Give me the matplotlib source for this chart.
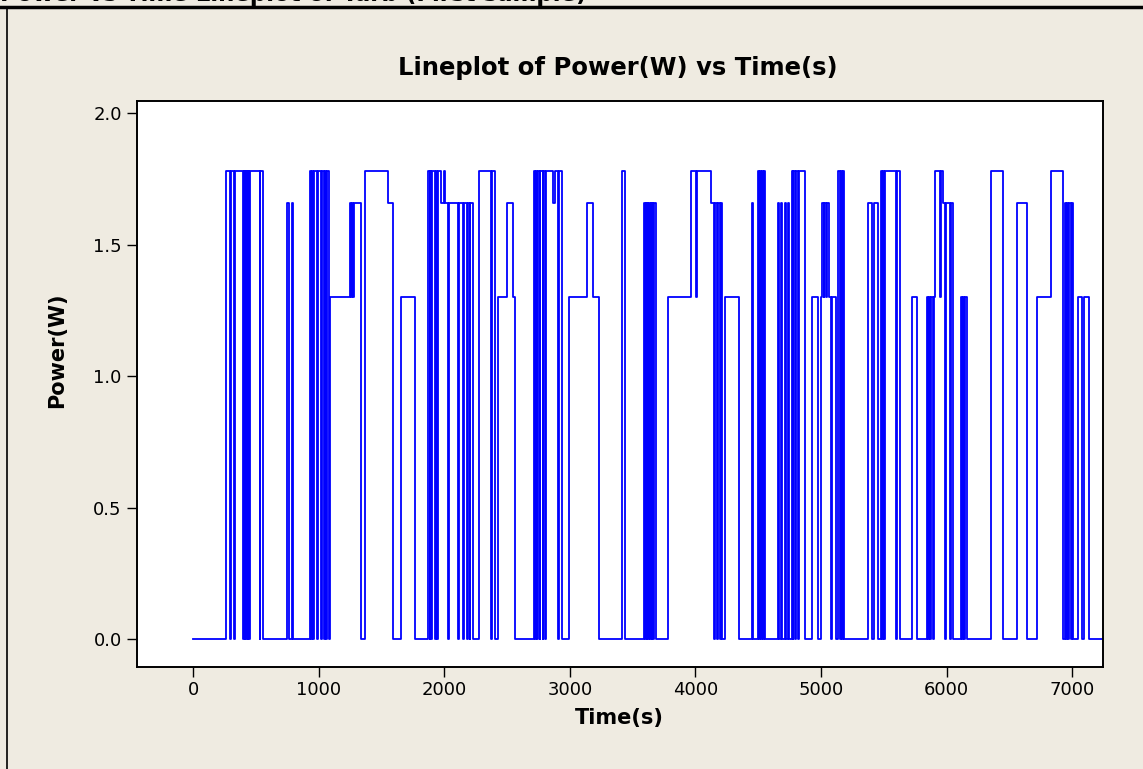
# Lineplot of Power(W) vs Time(s), Minitab style
import matplotlib.pyplot as plt
import numpy as np

# power levels (W) seen in the trace
levels = [0.0, 1.30, 1.66, 1.78]

# time (s) at which the power changes, and the level index it changes to
change_t = [0,
            263, 295, 300, 327, 333, 398, 402, 410, 415, 422, 427, 436, 441, 448, 452, 530, 537, 560,
            752, 764, 785, 796,
            932, 940, 946, 955, 962, 985, 992, 1022, 1030, 1043, 1050, 1060, 1066, 1085,
            1091, 1250, 1258, 1266, 1274, 1280, 1335,
            1369, 1555, 1595,
            1656, 1768,
            1873, 1884, 1888, 1897, 1901, 1930, 1935, 1944, 1949, 1975, 1995, 2005,
            2030, 2036, 2110, 2116, 2150, 2156, 2182, 2188, 2203, 2209, 2231,
            2277, 2370, 2378, 2404,
            2431, 2498, 2546, 2564,
            2718, 2724, 2730, 2740, 2745, 2760, 2766, 2784, 2790, 2803, 2808, 2869, 2885, 2905, 2912, 2936,
            2994, 3134, 3187, 3235,
            3418, 3440,
            3593, 3600, 3606, 3612, 3618, 3624, 3630, 3638, 3644, 3652, 3658, 3666, 3672, 3686,
            3784, 3962, 4005, 4015, 4124, 4150, 4156, 4170, 4176, 4195, 4200, 4209,
            4236, 4347,
            4450, 4460,
            4501, 4510, 4515, 4525, 4530, 4540, 4545, 4554,
            4656, 4663, 4685, 4692, 4711, 4718, 4738, 4746,
            4766, 4775, 4780, 4795, 4800, 4820, 4826, 4873,
            4931, 4979, 4998, 5011, 5020, 5026, 5040, 5046, 5064, 5080, 5086, 5122,
            5138, 5150, 5156, 5168, 5174, 5186,
            5372, 5403, 5424, 5454,
            5474, 5484, 5490, 5500, 5506, 5600, 5606, 5629,
            5721, 5761,
            5841, 5850, 5856, 5870, 5876, 5890, 5896, 5908, 5945, 5952, 5974, 5987, 5993, 6027, 6033, 6054,
            6115, 6125, 6130, 6140, 6146, 6159,
            6357, 6445,
            6557, 6636,
            6716, 6828, 6929,
            6943, 6952, 6958, 6968, 6975, 6990, 6996, 7009,
            7048, 7075, 7096, 7134,
            7260]
change_lvl = [0,
              3, 0, 3, 0, 3, 0, 3, 0, 3, 0, 3, 0, 3, 0, 3, 0, 3, 0,
              2, 0, 2, 0,
              3, 0, 3, 0, 3, 0, 3, 0, 3, 0, 3, 0, 3, 0,
              1, 2, 1, 2, 1, 2, 0,
              3, 2, 0,
              1, 0,
              3, 0, 3, 0, 3, 0, 3, 0, 3, 2, 3, 2,
              0, 2, 0, 2, 0, 2, 0, 2, 0, 2, 0,
              3, 0, 3, 0,
              1, 2, 1, 0,
              3, 0, 3, 0, 3, 0, 3, 0, 3, 0, 3, 2, 3, 0, 3, 0,
              1, 2, 1, 0,
              3, 0,
              2, 0, 2, 0, 2, 0, 2, 0, 2, 0, 2, 0, 2, 0,
              1, 3, 1, 3, 2, 0, 2, 0, 2, 0, 2, 0,
              1, 0,
              2, 0,
              3, 0, 3, 0, 3, 0, 3, 0,
              2, 0, 2, 0, 2, 0, 2, 0,
              3, 0, 3, 0, 3, 0, 3, 0,
              1, 0, 1, 2, 1, 2, 1, 2, 1, 0, 1, 0,
              3, 0, 3, 0, 3, 0,
              2, 0, 2, 0,
              3, 0, 3, 0, 3, 0, 3, 0,
              1, 0,
              1, 0, 1, 0, 1, 0, 1, 3, 1, 3, 2, 0, 2, 0, 2, 0,
              1, 0, 1, 0, 1, 0,
              3, 0,
              2, 0,
              1, 3, 0,
              2, 0, 2, 0, 2, 0, 2, 0,
              1, 0, 1, 0,
              0]

x_ticks = [0, 1000, 2000, 3000, 4000, 5000, 6000, 7000]
y_ticks = [0.0, 0.5, 1.0, 1.5, 2.0]

bg = '#EFEBE1'
power = np.array(levels)[change_lvl]

fig = plt.figure(figsize=(11.43, 7.69), dpi=100, facecolor=bg)
ax = fig.add_axes([137/1143, 1 - 667/769, 966/1143, 566/769])
ax.set_facecolor('white')

ax.step(change_t, power, where='post', color='#0000FF', lw=1.3)

ax.set_xlim(-446, 7245)
ax.set_ylim(-0.106, 2.046)
ax.set_xticks(x_ticks)
ax.set_xticklabels([str(v) for v in x_ticks])
ax.set_yticks(y_ticks)
ax.set_yticklabels([f'{v:.1f}' for v in y_ticks])
ax.tick_params(direction='out', length=7, width=1, labelsize=13, colors='black')
ax.tick_params(axis='x', pad=3)
ax.tick_params(axis='y', pad=4)
for s in ax.spines.values():
    s.set_linewidth(1.4)
    s.set_color('black')

fig.text(618/1143, 1 - 68/769, 'Lineplot of Power(W) vs Time(s)', ha='center', va='center',
         fontsize=17.5, fontweight='bold')
fig.text(619/1143, 1 - 718/769, 'Time(s)', ha='center', va='center', fontsize=15, fontweight='bold')
fig.text(57/1143, 1 - 350/769, 'Power(W)', ha='center', va='center', rotation=90,
         fontsize=15, fontweight='bold')

# window title cut off at the top edge, plus the frame lines
fig.text(0.0, 1 - 0.8/769, 'Power vs Time Lineplot of Tarb (First sample)', ha='left', va='baseline',
         fontsize=16.5, fontweight='bold')
fig.add_artist(plt.Line2D([0, 1], [1 - 6.5/769, 1 - 6.5/769], color='black', lw=2.5))
fig.add_artist(plt.Line2D([6.5/1143, 6.5/1143], [0, 1 - 6.5/769], color='black', lw=1.2))

fig.savefig('out.png', dpi=100, facecolor=bg)
